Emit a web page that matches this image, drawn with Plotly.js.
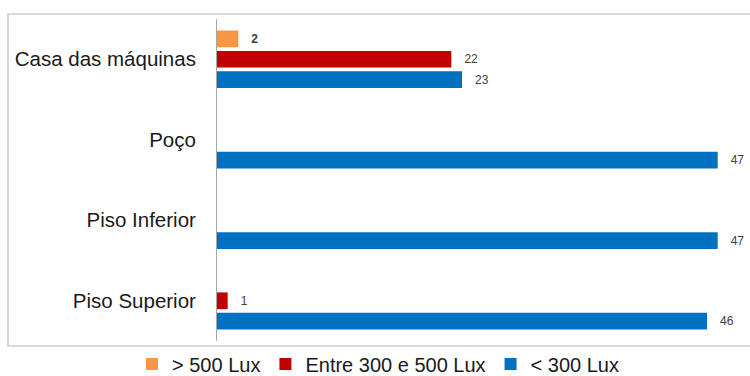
<!DOCTYPE html>
<html>
<head>
<meta charset="utf-8">
<script src="https://cdn.plot.ly/plotly-3.0.1.min.js"></script>
<style>
html,body{margin:0;padding:0;background:#fff;}
#chart{width:750px;height:376px;}
</style>
</head>
<body>
<div id="chart"></div>
<script>
const categories = ['Piso Superior', 'Piso Inferior', 'Poço', 'Casa das máquinas'];
const seriesNames = ['< 300 Lux', 'Entre 300 e 500 Lux', '> 500 Lux'];
const below300 = [46, 47, 47, 23];
const between300and500 = [1, null, null, 22];
const above500 = [null, null, null, 2];
const colors = ['#0070C0', '#C00000', '#F79646'];

const values = [below300, between300and500, above500];
const pad = '\u00a0\u00a0\u00a0';
const traces = values.map((v, i) => ({
  type: 'bar',
  orientation: 'h',
  name: seriesNames[i],
  y: categories,
  x: v,
  marker: {color: colors[i]},
  text: v.map(d => d == null ? '' : pad + d),
  textposition: 'outside',
  cliponaxis: false,
  textfont: {family: 'Liberation Sans, Arial, sans-serif', size: 12, color: '#404040', weight: i === 2 ? 'bold' : 'normal'},
  hoverinfo: 'skip'
}));

const L = 217, R = 11, T = 19, B = 35;
const W = 750 - L - R, H = 376 - T - B;

const layout = {
  width: 750, height: 376,
  margin: {l: L, r: R, t: T, b: B, autoexpand: false},
  paper_bgcolor: '#ffffff',
  plot_bgcolor: '#ffffff',
  barmode: 'group',
  bargap: 0.24,
  bargroupgap: 0.18,
  font: {family: 'Liberation Sans, Arial, sans-serif', color: '#1a1a1a'},
  xaxis: {range: [0, 49], visible: false, fixedrange: true},
  yaxis: {
    type: 'category',
    categoryorder: 'array', categoryarray: categories,
    showline: true, linecolor: '#A6A6A6', linewidth: 1,
    showgrid: false, zeroline: false, ticks: '',
    ticklabelstandoff: 16,
    tickfont: {size: 20.5, color: '#1a1a1a'}
  },
  showlegend: true,
  legend: {
    orientation: 'h', traceorder: 'reversed',
    x: (378 - L) / W, xanchor: 'center',
    yref: 'container',
    y: (376 - 364) / 376, yanchor: 'middle',
    bgcolor: 'rgba(0,0,0,0)',
    font: {size: 20, color: '#1a1a1a'},
    itemwidth: 30
  },
  shapes: [{
    type: 'rect', xref: 'paper', yref: 'paper', layer: 'below',
    x0: (8 - L) / W, x1: (770 - L) / W,
    y0: (T + H - 346) / H, y1: (T + H - 14) / H,
    line: {color: '#D9D9D9', width: 2}, fillcolor: 'rgba(0,0,0,0)'
  }]
};

Plotly.newPlot('chart', traces, layout, {staticPlot: true, displayModeBar: false});
</script>
</body>
</html>
